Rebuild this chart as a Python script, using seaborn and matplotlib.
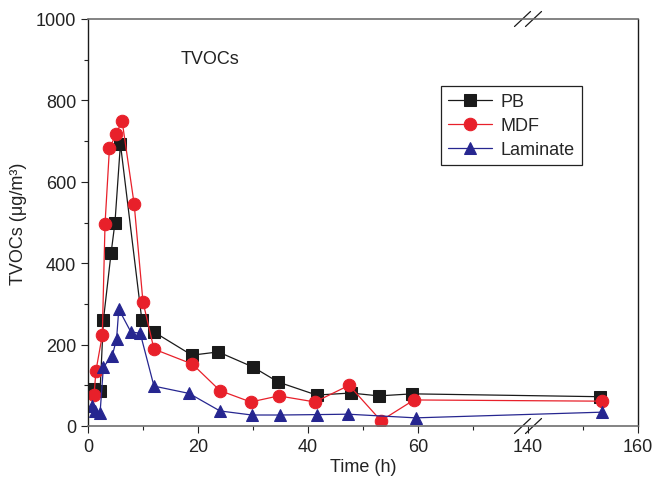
import numpy as np
import matplotlib
matplotlib.use("Agg")
import matplotlib.pyplot as plt
import seaborn as sns

# ---- data ----
pb_t = [1.0, 2.2, 2.8, 4.2, 4.9, 5.9, 9.8, 12.0, 18.9, 23.7, 30.0, 34.6, 41.6, 47.8, 52.9, 59.0, 153.0]
pb_v = [92, 87, 260, 425, 499, 693, 260, 231, 174, 182, 145, 108, 76, 81, 74, 79, 72]

mdf_t = [1.1, 1.45, 2.6, 3.1, 3.9, 5.1, 6.2, 8.4, 10.0, 12.0, 19.0, 24.0, 29.6, 34.7, 41.3, 47.5, 53.3, 59.3, 153.5]
mdf_v = [76, 136, 223, 497, 682, 717, 750, 545, 305, 189, 152, 87, 59, 74, 59, 100, 13, 64, 61]

lam_t = [0.7, 1.2, 2.2, 2.8, 4.4, 5.2, 5.6, 7.8, 9.5, 12.0, 18.4, 24.0, 29.8, 34.9, 41.6, 47.3, 59.6, 153.5]
lam_v = [49, 37, 33, 145, 172, 214, 287, 231, 228, 98, 80, 37, 27, 27, 28, 29, 20, 34]

series_names = ["PB", "MDF", "Laminate"]
x_major = [0, 20, 40, 60, 140, 160]
x_minor = [10, 30, 50, 70, 150]
y_major = [0, 200, 400, 600, 800, 1000]
y_minor = [100, 300, 500, 700, 900]

sns.set_style("ticks")
plt.rcParams["font.family"] = ["Liberation Sans", "DejaVu Sans"]
plt.rcParams["font.size"] = 13

fig = plt.figure(figsize=(6.56, 4.81), dpi=100)
ax = fig.add_axes([88/656, 1-427/481, 550/656, 407/481])

sns.lineplot(x=pb_t, y=pb_v, ax=ax, color="#1a1a1a", marker="s", markersize=8,
             markeredgecolor="#1a1a1a", linewidth=0.9, label=series_names[0],
             estimator=None, sort=False)
sns.lineplot(x=mdf_t, y=mdf_v, ax=ax, color="#e8202a", marker="o", markersize=9,
             markeredgecolor="#e8202a", linewidth=0.9, label=series_names[1],
             estimator=None, sort=False)
sns.lineplot(x=lam_t, y=lam_v, ax=ax, color="#262690", marker="^", markersize=8.5,
             markeredgecolor="#262690", linewidth=0.9, label=series_names[2],
             estimator=None, sort=False)

# broken x axis: 80..140 collapsed
eps = 0.001
def fwd(x):
    x = np.asarray(x, dtype=float)
    return np.where(x <= 80, x, np.where(x >= 140, x - 60 + 60*eps, 80 + (x - 80)*eps))
def inv(y):
    y = np.asarray(y, dtype=float)
    return np.where(y <= 80, y, np.where(y >= 80 + 60*eps, y + 60 - 60*eps, 80 + (y - 80)/eps))
ax.set_xscale("function", functions=(fwd, inv))
ax.set_xlim(0, 160)
ax.set_ylim(0, 1000)
ax.set_xticks(x_major)
ax.set_xticklabels([str(v) for v in x_major])
ax.set_xticks(x_minor, minor=True)
ax.set_yticks(y_major)
ax.set_yticks(y_minor, minor=True)
ax.tick_params(which="major", direction="out", length=5, width=0.8, color="#222222",
               labelsize=13, labelcolor="#222222")
ax.tick_params(which="minor", direction="out", length=3, width=0.8, color="#222222")

for s in ["left", "right"]:
    ax.spines[s].set_visible(True)
    ax.spines[s].set_color("#1a1a1a")
    ax.spines[s].set_linewidth(1.0)
for s in ["top", "bottom"]:
    ax.spines[s].set_visible(True)
    ax.spines[s].set_color("#6e6e6e")
    ax.spines[s].set_linewidth(1.2)

ax.set_xlabel("Time (h)", fontsize=13, color="#222222", labelpad=2)
ax.set_ylabel("TVOCs (μg/m³)", fontsize=13, color="#222222", labelpad=6)

ax.text(0.222, 0.902, "TVOCs", transform=ax.transAxes, ha="center", va="center",
        fontsize=13, color="#222222")

leg = ax.legend(loc="upper left", bbox_to_anchor=(0.642, 0.835), frameon=True,
                fancybox=False, edgecolor="#222222", framealpha=1, fontsize=13,
                handlelength=2.4, handletextpad=0.5, borderpad=0.4, labelspacing=0.38,
                borderaxespad=0)
leg.get_frame().set_linewidth(0.9)

# break marks
bx = 0.8
dx, dy = 8/550, 7.5/407
sep = 11/550
for yb in (0.0, 1.0):
    for off in (-sep/2, sep/2):
        ax.plot([bx + off - dx, bx + off + dx], [yb - dy, yb + dy], transform=ax.transAxes,
                color="#1a1a1a", linewidth=0.9, clip_on=False)

fig.savefig("out.png", dpi=100)
